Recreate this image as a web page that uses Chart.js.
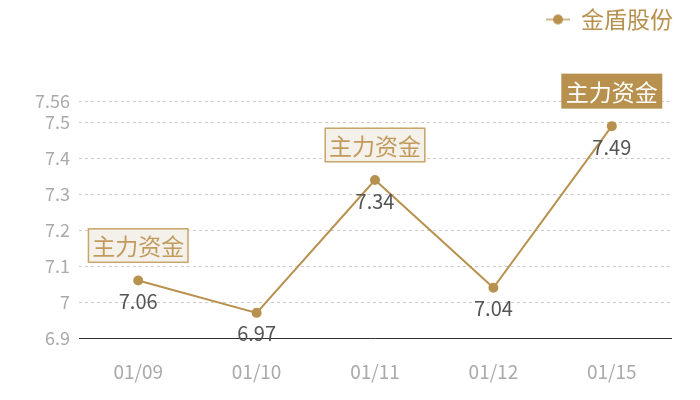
<!DOCTYPE html>
<html><head><meta charset="utf-8">
<script src="https://cdn.jsdelivr.net/npm/chart.js@4"></script>
<style>html,body{margin:0;padding:0;background:#fff}#wrap{width:700px;height:400px}</style>
</head><body><div id="wrap"><canvas id="c"></canvas></div>
<script>
const categories = ['01/09','01/10','01/11','01/12','01/15'];
const seriesName = '金盾股份';
const prices = [7.06, 6.97, 7.34, 7.04, 7.49];
const yTicks = [6.9, 7, 7.1, 7.2, 7.3, 7.4, 7.5, 7.56];
const tagTexts = ['主力资金', null, '主力资金', null, '主力资金'];
const highlightTag = 4;

const FONT = '"Noto Sans CJK SC","Noto Sans",sans-serif';
const GOLD = '#b8914f';

function legendIcon(){
  const c = document.createElement('canvas');
  c.width = 24; c.height = 12;
  const x = c.getContext('2d');
  x.strokeStyle = '#d2b88c'; x.lineWidth = 2;
  x.beginPath(); x.moveTo(0,6); x.lineTo(24,6); x.stroke();
  x.fillStyle = GOLD; x.beginPath(); x.arc(12,6,5,0,Math.PI*2); x.fill();
  return c;
}
const icon = legendIcon();

const labelPlugin = {
  id: 'labels',
  afterDatasetsDraw(chart){
    const ctx = chart.ctx;
    const meta = chart.getDatasetMeta(0);
    ctx.save();
    meta.data.forEach((pt, i) => {
      ctx.font = '20px ' + FONT;
      ctx.fillStyle = '#555';
      ctx.textAlign = 'center';
      ctx.textBaseline = 'middle';
      ctx.fillText(String(prices[i]), pt.x, pt.y + 21);
      const t = tagTexts[i];
      if (t) {
        ctx.font = '23px ' + FONT;
        const w = 101, h = 35;
        const bx = pt.x - w/2, by = pt.y - 35 - h/2;
        if (i === highlightTag) {
          ctx.fillStyle = GOLD;
          ctx.fillRect(bx, by, w, h);
          ctx.fillStyle = '#fff';
        } else {
          ctx.fillStyle = '#f4f0ea';
          ctx.fillRect(bx, by, w, h);
          ctx.strokeStyle = '#c9a66b';
          ctx.lineWidth = 1.5;
          ctx.strokeRect(bx+0.75, by+0.75, w-1.5, h-1.5);
          ctx.fillStyle = '#c29a5c';
        }
        ctx.fillText(t, pt.x, by + h/2 + 1);
      }
    });
    ctx.restore();
  }
};

const legendSpace = {
  id: 'legendSpace',
  beforeInit(chart){
    const lg = chart.legend;
    if (lg) {
      const f = lg.fit;
      lg.fit = function(){ f.call(this); this.height += 60; };
    }
  },
  afterUpdate(chart){
    const lg = chart.legend;
    if (lg) { lg.left += 10; lg.right += 10; }
  }
};

new Chart(document.getElementById('c'), {
  type: 'line',
  data: {
    labels: categories,
    datasets: [{
      label: seriesName,
      data: prices,
      borderColor: GOLD,
      backgroundColor: GOLD,
      borderWidth: 2,
      pointRadius: 4,
      pointHoverRadius: 4,
      tension: 0,
      fill: false
    }]
  },
  options: {
    responsive: true,
    maintainAspectRatio: false,
    animation: false,
    layout: { padding: { left: 0, right: 29, top: 0, bottom: 0 } },
    plugins: {
      tooltip: { enabled: false },
      legend: {
        position: 'top',
        align: 'end',
        labels: {
          usePointStyle: true,
          font: { size: 23, family: FONT },
          color: GOLD,
          padding: 8,
          generateLabels(chart){
            const items = Chart.defaults.plugins.legend.labels.generateLabels(chart);
            items.forEach(it => { it.pointStyle = icon; it.fontColor = GOLD; });
            return items;
          }
        }
      }
    },
    scales: {
      x: {
        offset: true,
        grid: { display: false, drawTicks: false, offset: true },
        border: { display: true, color: '#333', width: 1 },
        ticks: { color: '#aaa', font: { size: 19, family: FONT }, padding: 22 },
        afterFit(s){ s.height = 62; }
      },
      y: {
        min: 6.9, max: 7.56,
        afterBuildTicks(s){ s.ticks = yTicks.map(v => ({ value: v })); },
        afterFit(s){ s.width = 79; },
        grid: { color: '#ccc', drawTicks: false },
        border: { display: false, dash: [3,3] },
        ticks: {
          color: '#aaa',
          font: { size: 18, family: FONT },
          padding: 9,
          autoSkip: false,
          callback: v => String(+Number(v).toFixed(2))
        }
      }
    }
  },
  plugins: [labelPlugin, legendSpace]
});
</script>
</body></html>
